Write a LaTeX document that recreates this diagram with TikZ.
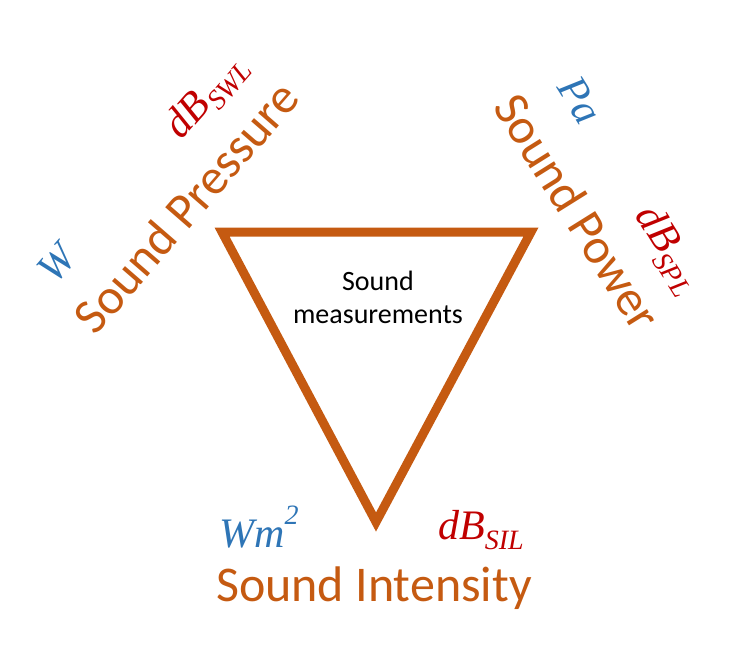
\documentclass[tikz,border=0pt]{standalone}
\usepackage{fontspec}
\setmainfont{Carlito}
\newfontfamily\unitfont{Liberation Serif}
\definecolor{sorange}{HTML}{C55A11}
\definecolor{sblue}{HTML}{2E75B6}
\definecolor{sred}{HTML}{C00000}
\newcommand\usub[1]{\raisebox{-0.22em}{\fontsize{28}{30}\selectfont\itshape #1}}
\begin{document}
\begin{tikzpicture}[x=1pt,y=-1pt,
  big/.style={text=sorange,font=\fontsize{50}{56}\selectfont,inner sep=0pt},
  unitb/.style={text=sblue,font=\unitfont\itshape\fontsize{42}{46}\selectfont,inner sep=0pt},
  unitr/.style={text=sred,font=\unitfont\itshape\fontsize{42}{46}\selectfont,inner sep=0pt}]
\useasboundingbox (0,0) rectangle (746,648);
\coordinate (tl) at (222,232);
\coordinate (tr) at (531,232);
\coordinate (bt) at (376,522);
\draw[sorange,line width=9pt,line join=miter] (tl) -- (tr) -- (bt) -- cycle;
\node[align=center,font=\fontsize{28}{33}\selectfont,inner sep=0pt] (meas) at (378,297) {Sound\\measurements};
\node[big] (press) at (186,207) [rotate=49] {Sound Pressure};
\node[big] (power) at (578,212) [rotate=-58] {Sound Power};
\node[big] (inten) at (374,588) {Sound Intensity};
\node[unitb] (w) at (57,263) [rotate=49] {W};
\node[unitr] (dbswl) at (207,97) [rotate=49] {dB\usub{SWL}};
\node[unitb] (pa) at (580,100) [rotate=-58] {Pa};
\node[unitr] (dbspl) at (668,250) [rotate=-58] {dB\usub{SPL}};
\node[unitb] (wm) at (259,527) {Wm\raisebox{0.55em}{\fontsize{28}{30}\selectfont 2}};
\node[unitr] (dbsil) at (481,530) {dB\usub{SIL}};
\end{tikzpicture}
\end{document}
